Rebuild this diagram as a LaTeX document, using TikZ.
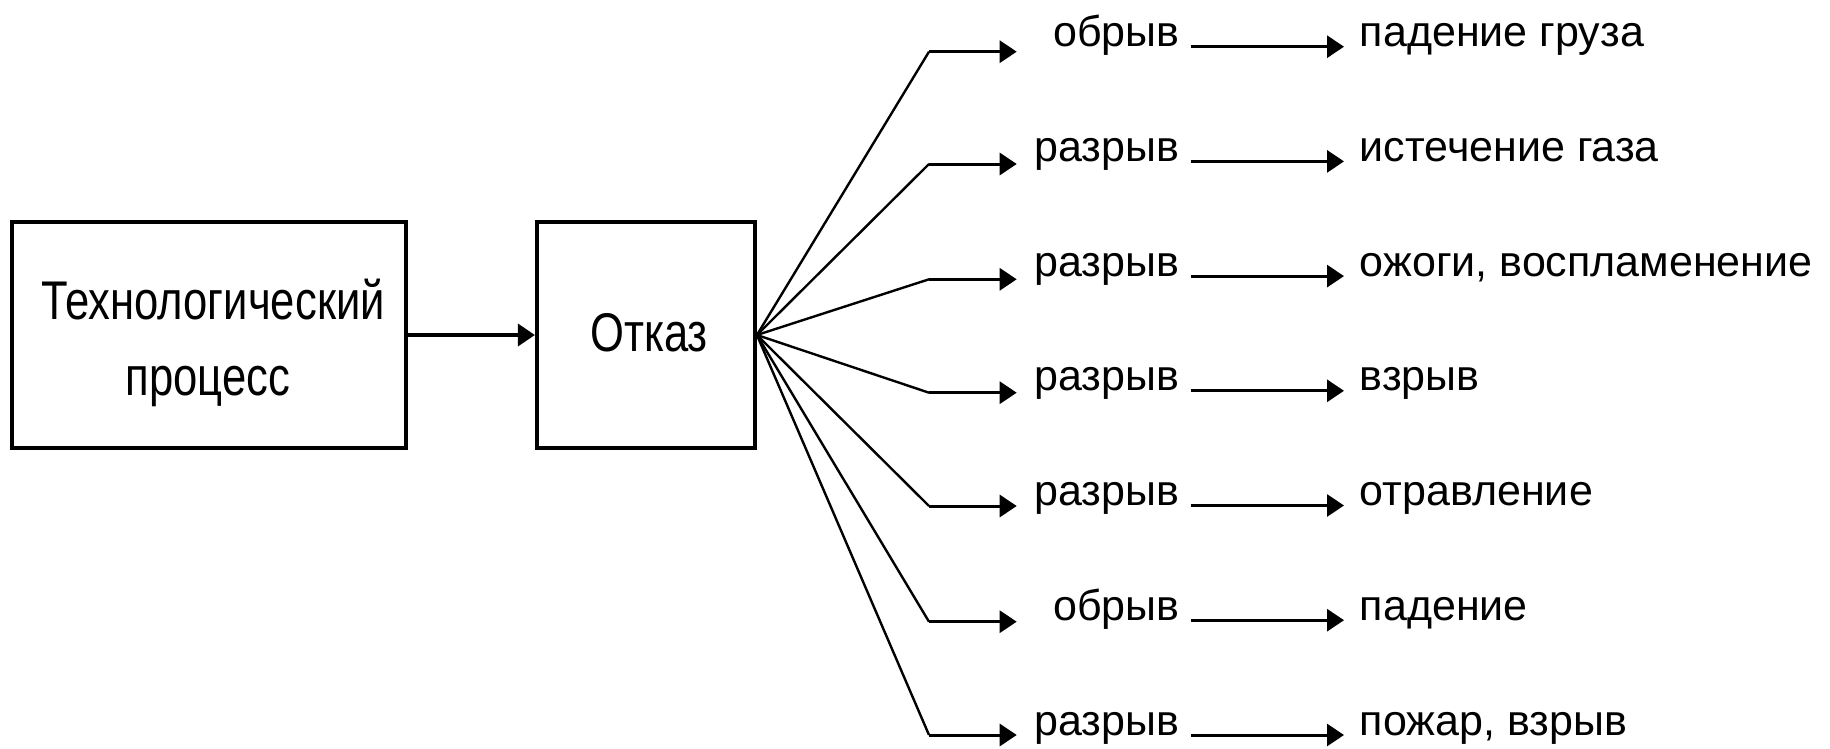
\documentclass[tikz,border=0pt]{standalone}
\usepackage{fontspec}
\setmainfont{Liberation Sans}
\newfontfamily\boxfont[FakeStretch=0.8]{Liberation Sans}
\usetikzlibrary{arrows.meta}
\tikzset{
  box/.style={draw, line width=2pt, rectangle, inner sep=0pt},
  boxtext/.style={font={\boxfont\fontsize{27.25pt}{32pt}\selectfont}, inner sep=0pt},
  lbl/.style={font={\fontsize{21.5pt}{25pt}\selectfont}, inner xsep=5.5pt, inner ysep=0pt},
  res/.style={font={\fontsize{21.5pt}{25pt}\selectfont}, inner xsep=7.75pt, inner ysep=0pt},
  fan/.style={line width=1.2pt},
  harr/.style={line width=1.5pt, -{Triangle[length=8.5pt,width=11pt]}},
}
\newcommand\branchrow[5]{%
  \coordinate (k#1) at (929,#2);
  \coordinate (e#1) at (1016.7,#2);
  \node[lbl, anchor=base east] (l#1) at (1190.7,#3) {#4};
  \node[res, anchor=base west] (r#1) at (1344,#3) {#5};
  \draw[fan] (fail.east) -- (k#1);
  \draw[harr] (k#1) -- (e#1);
  \draw[harr] (l#1.base east) -- (r#1.base west);
}
\begin{document}
\begin{tikzpicture}[x=0.5pt,y=-0.5pt]
\useasboundingbox (0,0) rectangle (1830,749);
\node[box, minimum width=197pt, minimum height=113pt] (proc) at (208.8,335) {};
\node[boxtext, anchor=base] (proc1) at (213,319) {Технологический};
\node[boxtext, anchor=base] (proc2) at (208,395) {процесс};
\node[box, minimum width=109pt, minimum height=113pt] (fail) at (645.9,335) {};
\node[boxtext, anchor=base] (failt) at (649,351.7) {Отказ};
\draw[harr, line width=1.8pt] (proc.east) -- (fail.west);
\branchrow{1}{51.7}{46.7}{обрыв}{падение груза}
\branchrow{2}{164}{161.4}{разрыв}{истечение газа}
\branchrow{3}{279.3}{276.1}{разрыв}{ожоги, воспламенение}
\branchrow{4}{392.7}{390.8}{разрыв}{взрыв}
\branchrow{5}{506}{505.5}{разрыв}{отравление}
\branchrow{6}{621.7}{620.2}{обрыв}{падение}
\branchrow{7}{735}{735}{разрыв}{пожар, взрыв}
\end{tikzpicture}
\end{document}
